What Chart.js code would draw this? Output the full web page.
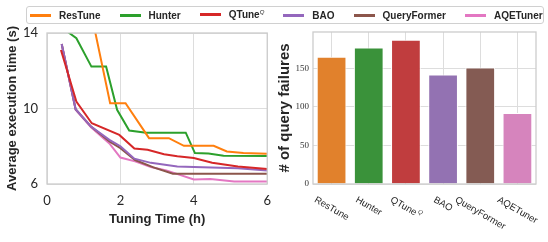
<!DOCTYPE html>
<html>
<head>
<meta charset="utf-8">
<script src="https://cdn.jsdelivr.net/npm/chart.js@4.4.1/dist/chart.umd.min.js"></script>
<style>
  body { margin: 0; background: #fff; }
  #wrap { position: relative; width: 548px; height: 242px; }
  #lineCanvas { position: absolute; left: 0; top: 0; }
  #barCanvas { position: absolute; left: 270px; top: 0; }
  #legend {
    position: absolute; left: 26px; top: 6px; width: 513px; height: 16px;
    border: 1px solid #d0d0d0; border-radius: 3px; background: #fff;
    display: flex; align-items: center; padding-left: 3px; box-sizing: content-box;
    font: bold 10px "Liberation Sans", sans-serif; color: #262626; z-index: 2;
  }
  .item { display: flex; align-items: center; margin-right: 19px; white-space: nowrap; }
  .swatch { width: 21px; height: 3px; margin-right: 8px; }
  sup { font-size: 6px; font-weight: normal; font-style: italic; }
</style>
</head>
<body>
<div id="wrap">
  <canvas id="lineCanvas" width="280" height="242"></canvas>
  <canvas id="barCanvas" width="278" height="242"></canvas>
  <div id="legend"></div>
</div>
<script>
// methods
const methods = ["ResTune", "Hunter", "QTune", "BAO", "QueryFormer", "AQETuner"];
const lineColors = ["#ff7f0e", "#2ca02c", "#d62728", "#9467bd", "#8c564b", "#e377c2"];
const barColors = ["#e1812c", "#3a923a", "#c03d3e", "#9372b2", "#845b53", "#d684bd"];

// tuning curves: time (h) and average execution time (s)
const resTuneX = [1.2, 1.72, 2.14, 2.78, 3.32, 3.73, 4.54, 4.9, 5.35, 6.0];
const resTuneY = [15.1, 10.28, 10.28, 8.43, 8.43, 8.02, 8.02, 7.72, 7.64, 7.6];
const hunterX = [0.4, 0.8, 1.21, 1.61, 1.91, 2.24, 2.7, 3.78, 4.03, 4.4, 4.81, 6.0];
const hunterY = [14.3, 13.72, 12.22, 12.22, 9.93, 8.83, 8.72, 8.72, 7.64, 7.62, 7.5, 7.48];
const qtuneX = [0.38, 0.8, 1.22, 1.97, 2.38, 2.74, 3.19, 3.55, 4.0, 4.5, 5.2, 6.0];
const qtuneY = [13.1, 10.37, 9.22, 8.6, 7.88, 7.81, 7.58, 7.47, 7.38, 7.13, 6.93, 6.8];
const baoX = [0.4, 0.78, 1.2, 1.7, 2.0, 2.38, 2.83, 3.55, 4.0, 5.2, 6.0];
const baoY = [13.42, 9.96, 9.04, 8.34, 8.0, 7.34, 7.12, 6.93, 6.9, 6.83, 6.72];
const queryFormerX = [0.4, 0.78, 1.2, 1.7, 2.0, 2.4, 2.9, 3.43, 6.0];
const queryFormerY = [13.42, 9.96, 9.04, 8.25, 7.9, 7.27, 6.88, 6.54, 6.54];
const aqeTunerX = [0.4, 0.78, 1.2, 1.7, 2.0, 2.4, 2.83, 3.25, 4.0, 4.45, 5.1, 6.0];
const aqeTunerY = [13.42, 9.93, 9.0, 8.15, 7.4, 7.2, 6.9, 6.72, 6.24, 6.27, 6.13, 6.13];

// number of query failures
const failures = [165, 177, 187, 142, 151, 92];

const xTicks = [0, 2, 4, 6];
const yTicks = [6, 10, 14];
const failTicks = [0, 50, 100, 150];

const curvesX = [resTuneX, hunterX, qtuneX, baoX, queryFormerX, aqeTunerX];
const curvesY = [resTuneY, hunterY, qtuneY, baoY, queryFormerY, aqeTunerY];

// html legend (QTune has a superscript Q)
const legend = document.getElementById("legend");
methods.forEach((m, i) => {
  const item = document.createElement("div");
  item.className = "item";
  const label = m === "QTune" ? 'QTune<sup>Q</sup>' : m;
  item.innerHTML = `<span class="swatch" style="background:${lineColors[i]}"></span><span>${label}</span>`;
  legend.appendChild(item);
});

const frame = {
  id: "frame",
  afterDatasetsDraw(chart) {
    const a = chart.chartArea;
    const ctx = chart.ctx;
    ctx.save();
    ctx.strokeStyle = "#cccccc";
    ctx.lineWidth = 1.3;
    ctx.strokeRect(a.left, a.top, a.right - a.left, a.bottom - a.top);
    ctx.restore();
  }
};

new Chart(document.getElementById("lineCanvas"), {
  type: "line",
  data: {
    datasets: methods.map((m, i) => ({
      label: m,
      data: curvesX[i].map((x, j) => ({ x: x, y: curvesY[i][j] })),
      borderColor: lineColors[i],
      borderWidth: 2,
      pointRadius: 0,
      tension: 0,
      fill: false
    }))
  },
  options: {
    responsive: false,
    animation: false,
    layout: { padding: { top: 33, right: 11, left: 0, bottom: 0 } },
    plugins: { legend: { display: false }, tooltip: { enabled: false } },
    scales: {
      x: {
        type: "linear", min: 0, max: 6,
        afterBuildTicks: s => { s.ticks = xTicks.map(v => ({ value: v })); },
        afterFit: s => { s.height = 58; },
        grid: { color: "#dddddd", drawTicks: false },
        border: { display: false },
        ticks: { padding: 9, color: "#262626", font: { family: "Lato", size: 13 } },
        title: { display: true, text: "Tuning Time (h)", color: "#262626",
          font: { family: "Liberation Sans", size: 13, weight: "bold" }, padding: { bottom: 15 } }
      },
      y: {
        min: 6, max: 14,
        afterBuildTicks: s => { s.ticks = yTicks.map(v => ({ value: v })); },
        afterFit: s => { s.width = 47; },
        grid: { color: "#dddddd", drawTicks: false },
        border: { display: false },
        ticks: { padding: 9, color: "#262626", font: { family: "Lato", size: 13 } },
        title: { display: true, text: "Average execution time (s)", color: "#262626",
          font: { family: "Liberation Sans", size: 13, weight: "bold" }, padding: { top: 5 } }
      }
    }
  },
  plugins: [frame]
});

// rotated category labels drawn under the bars
const slantLabels = {
  id: "slantLabels",
  afterDraw(chart) {
    const ctx = chart.ctx;
    const xs = chart.scales.x;
    const base = chart.chartArea.bottom + 11;
    const ang = Math.PI / 6;
    ctx.save();
    ctx.fillStyle = "#262626";
    methods.forEach((m, i) => {
      ctx.font = '9.5px "Liberation Sans"';
      let w = ctx.measureText(m).width;
      let supW = 0;
      if (m === "QTune") {
        ctx.font = 'italic 6px "Liberation Sans"';
        supW = ctx.measureText("Q").width + 1;
        w += supW;
      }
      const h = 9.5;
      const bh = w * Math.sin(ang) + h * Math.cos(ang);
      const cx = xs.getPixelForTick(i);
      const cy = base + bh / 2;
      ctx.translate(cx, cy);
      ctx.rotate(ang);
      ctx.textBaseline = "middle";
      ctx.textAlign = "left";
      ctx.font = '9.5px "Liberation Sans"';
      ctx.fillText(m, -w / 2, 0);
      if (supW) {
        ctx.font = 'italic 6px "Liberation Sans"';
        ctx.fillText("Q", -w / 2 + w - supW + 1, -3);
      }
      ctx.setTransform(1, 0, 0, 1, 0, 0);
    });
    ctx.restore();
  }
};

new Chart(document.getElementById("barCanvas"), {
  type: "bar",
  data: {
    labels: methods,
    datasets: [{
      data: failures,
      backgroundColor: barColors,
      borderColor: "#ffffff",
      borderWidth: 1,
      barPercentage: 0.8,
      categoryPercentage: 1
    }]
  },
  options: {
    responsive: false,
    animation: false,
    layout: { padding: { top: 32, right: 12, left: 0, bottom: 0 } },
    plugins: { legend: { display: false }, tooltip: { enabled: false } },
    scales: {
      x: {
        afterFit: s => { s.height = 58; },
        grid: { color: "#dddddd", drawTicks: false, offset: false },
        border: { display: false },
        ticks: { display: false }
      },
      y: {
        min: 0, max: 197,
        afterBuildTicks: s => { s.ticks = failTicks.map(v => ({ value: v })); },
        afterFit: s => { s.width = 43; },
        grid: { color: "#dddddd", drawTicks: false },
        border: { display: false },
        ticks: { padding: 4, color: "#333333",
          font: { family: "Liberation Serif", size: 9 } },
        title: { display: true, text: "# of query failures", color: "#262626",
          font: { family: "Liberation Sans", size: 15, weight: "bold" }, padding: { top: 6 } }
      }
    }
  },
  plugins: [frame, slantLabels]
});
</script>
</body>
</html>
